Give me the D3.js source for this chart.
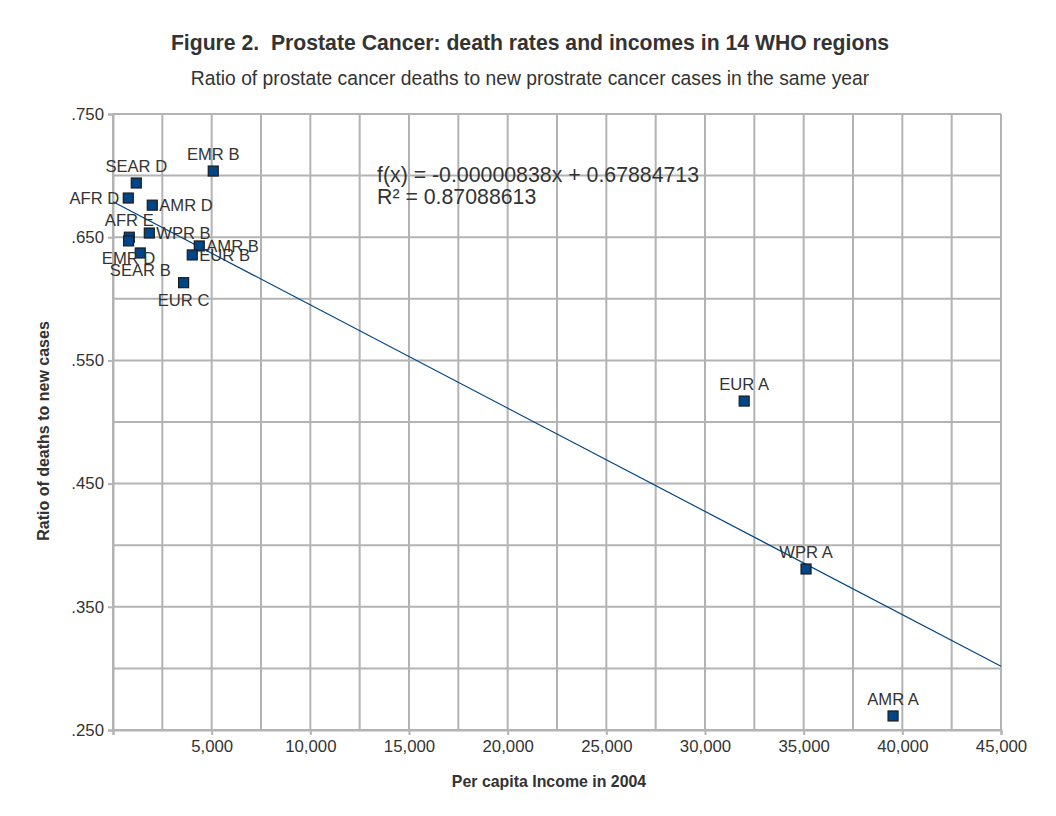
<!DOCTYPE html>
<html><head><meta charset="utf-8">
<script src="https://cdn.jsdelivr.net/npm/d3@7"></script>
<style>body{margin:0;background:#fff;} text{font-family:"Liberation Sans",Arial,sans-serif;fill:#333;}</style>
</head><body>
<svg id="c" width="1056" height="816"></svg>
<script>
const regions = ["EMR B","SEAR D","AFR D","AMR D","WPR B","AFR E","EMR D","SEAR B","AMR B","EUR B","EUR C","EUR A","WPR A","AMR A"];
const income  = [5080, 1180, 775, 1990, 1840, 825, 790, 1383, 4372, 4017, 3577, 31985, 35120, 39530];
const ratio   = [0.7037, 0.694, 0.6818, 0.676, 0.6534, 0.650, 0.647, 0.6372, 0.6429, 0.6356, 0.6131, 0.517, 0.3807, 0.2614];
const labelPos = ["top","top","left","right","right","top","bottom","bottom","right","right","bottom","top","top","top"];
const xTicks = [0,5000,10000,15000,20000,25000,30000,35000,40000,45000];
const yTicks = [0.25,0.35,0.45,0.55,0.65,0.75];
const slope = -0.00000838, intercept = 0.67884713;
const eqText = "f(x) = -0.00000838x + 0.67884713";
const r2Text = "R² = 0.87088613";

const svg = d3.select("#c");
const L=113, R=1001, T=114, B=730;
const x = d3.scaleLinear().domain([0,45000]).range([L,R]);
const y = d3.scaleLinear().domain([0.25,0.75]).range([B,T]);
const grid = "#b3b3b3";

// gridlines
const g = svg.append("g");
d3.range(0,45001,2500).forEach(v=>{
  g.append("line").attr("x1",x(v)).attr("x2",x(v)).attr("y1",T).attr("y2",B).attr("stroke",grid).attr("stroke-width",2);
});
d3.range(0,11).map(i=>0.25+i*0.05).forEach(v=>{
  g.append("line").attr("x1",L).attr("x2",R).attr("y1",y(v)).attr("y2",y(v)).attr("stroke",grid).attr("stroke-width",2);
});

// axes
const fmtX = d3.format(",");
const xAxis = d3.axisBottom(x).tickValues(xTicks).tickSize(5).tickPadding(5).tickFormat(d=>d===0?"":fmtX(d));
const xa = svg.append("g").attr("transform",`translate(0,${B})`).call(xAxis);
const yAxis = d3.axisLeft(y).tickValues(yTicks).tickSize(5).tickPadding(4).tickFormat(d=>d3.format(".3f")(d).replace(/^0/,""));
const ya = svg.append("g").attr("transform",`translate(${L},0)`).call(yAxis);
[xa,ya].forEach(a=>{
  a.select(".domain").attr("stroke",grid).attr("stroke-width",2);
  a.selectAll(".tick line").attr("stroke",grid).attr("stroke-width",2);
  a.selectAll(".tick text").attr("font-size",16.8).attr("fill","#333").style("font-family","Liberation Sans, Arial, sans-serif");
});

// trend line
svg.append("line").attr("x1",x(0)).attr("y1",y(intercept)).attr("x2",x(45000)).attr("y2",y(intercept+slope*45000))
  .attr("stroke","#004586").attr("stroke-width",1.2);

// points
const data = regions.map((r,i)=>({r, x:income[i], y:ratio[i], p:labelPos[i]}));
svg.append("g").selectAll("rect").data(data).join("rect")
  .attr("x",d=>x(d.x)-5).attr("y",d=>y(d.y)-5).attr("width",10).attr("height",10)
  .attr("fill","#004586").attr("stroke","#1c1c1c").attr("stroke-width",1.2);

// labels
svg.append("g").selectAll("text").data(data).join("text")
  .attr("font-size",16.6)
  .attr("x",d=>{const px=x(d.x); return d.p==="left"?px-9:d.p==="right"?px+7:px;})
  .attr("y",d=>{const py=y(d.y); return d.p==="top"?py-11:d.p==="bottom"?py+23:py+6;})
  .attr("text-anchor",d=>d.p==="left"?"end":d.p==="right"?"start":"middle")
  .text(d=>d.r);

// equation
svg.append("text").attr("x",377).attr("y",182).attr("font-size",21.3).text(eqText);
svg.append("text").attr("x",377).attr("y",204).attr("font-size",21.3).text(r2Text);

// titles
svg.append("text").attr("x",530).attr("y",50).attr("text-anchor","middle").attr("font-size",21.2).attr("font-weight","bold")
  .style("white-space","pre").text("Figure 2.  Prostate Cancer: death rates and incomes in 14 WHO regions");
svg.append("text").attr("x",530).attr("y",85).attr("text-anchor","middle").attr("font-size",19.3)
  .text("Ratio of prostate cancer deaths to new prostrate cancer cases in the same year");
svg.append("text").attr("x",549).attr("y",787).attr("text-anchor","middle").attr("font-size",15.9).attr("font-weight","bold")
  .text("Per capita Income in 2004");
svg.append("text").attr("transform","translate(49,431) rotate(-90)").attr("text-anchor","middle").attr("font-size",16).attr("font-weight","bold")
  .text("Ratio of deaths to new cases");
</script>
</body></html>
